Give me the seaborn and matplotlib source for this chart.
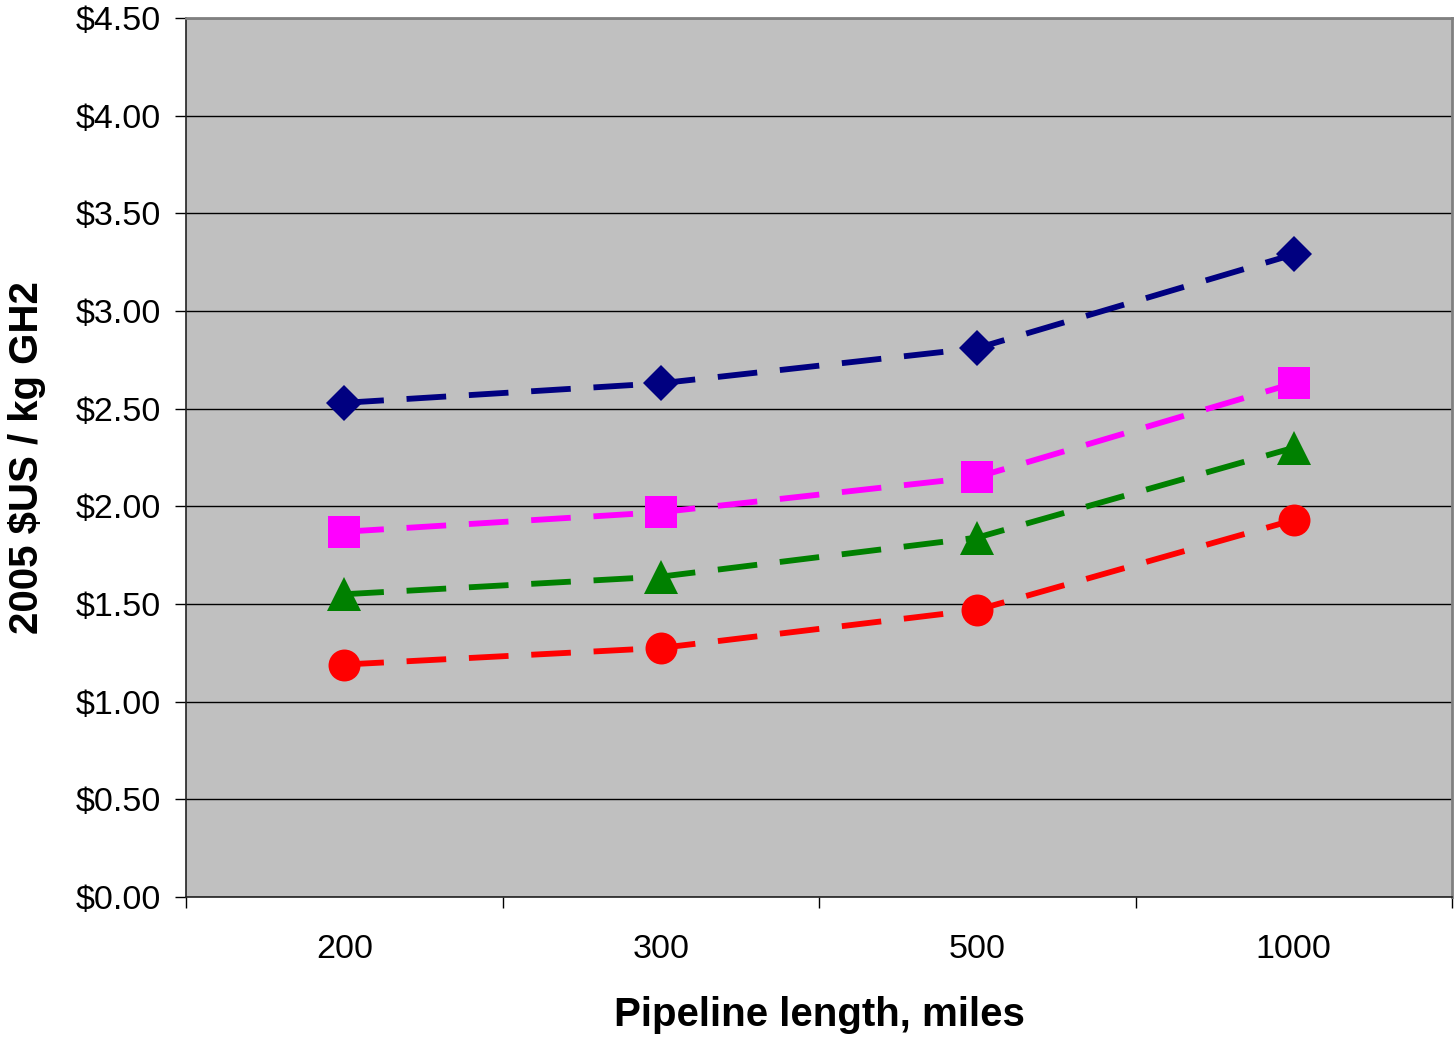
import matplotlib
matplotlib.use("Agg")
import matplotlib.pyplot as plt
import seaborn as sns
import pandas as pd
from matplotlib.ticker import FixedLocator, FuncFormatter

# ---- data ----
lengths = ["200", "300", "500", "1000"]
series_a = [2.53, 2.63, 2.81, 3.29]   # navy diamonds
series_b = [1.87, 1.97, 2.15, 2.63]   # magenta squares
series_c = [1.55, 1.64, 1.84, 2.30]   # green triangles
series_d = [1.19, 1.275, 1.47, 1.93]  # red circles
y_ticks = [0.0, 0.5, 1.0, 1.5, 2.0, 2.5, 3.0, 3.5, 4.0, 4.5]

sns.set_style("white")
plt.rcParams["font.family"] = ["Liberation Sans", "DejaVu Sans"]
plt.rcParams["text.color"] = "black"
plt.rcParams["axes.labelcolor"] = "black"
plt.rcParams["xtick.color"] = "black"
plt.rcParams["ytick.color"] = "black"

fig = plt.figure(figsize=(14.54, 10.37), dpi=100)
ax = fig.add_axes([186 / 1454, (1037 - 897) / 1037, 1266 / 1454, 879 / 1037])
ax.set_facecolor("#C0C0C0")

styles = [
    (series_a, "#000080", "D", 18),
    (series_b, "#FF00FF", "s", 23),
    (series_c, "#008000", "^", 25),
    (series_d, "#FF0000", "o", 23),
]
for vals, color, marker, ms in styles:
    df = pd.DataFrame({"length": lengths, "cost": vals})
    sns.lineplot(data=df, x="length", y="cost", ax=ax, color=color,
                 marker=marker, markersize=ms, markeredgewidth=0,
                 linewidth=4.2, linestyle=(0, (6.8, 3.9)),
                 dash_capstyle="butt", sort=False, legend=False, zorder=3)

ax.set_xlim(-0.5, len(lengths) - 0.5)
ax.set_ylim(0, 4.5)

# y axis
ax.yaxis.set_major_locator(FixedLocator(y_ticks))
ax.yaxis.set_major_formatter(FuncFormatter(lambda v, p: f"${v:.2f}"))
ax.grid(axis="y", color="black", linewidth=1.0, zorder=1)
ax.set_axisbelow(True)
ax.tick_params(axis="y", direction="out", length=8, width=1, color="black",
               labelcolor="black", labelsize=24.5, pad=10, left=True)

# x axis: labels at centres, tick marks at boundaries
ax.set_xticks(range(len(lengths)))
ax.set_xticklabels(lengths)
ax.set_xticks([i - 0.5 for i in range(len(lengths) + 1)], minor=True)
ax.tick_params(axis="x", which="major", length=0, labelsize=24.5, pad=27,
               labelcolor="black")
ax.tick_params(axis="x", which="minor", direction="out", length=8, width=1,
               color="black", bottom=True)

for side in ["left", "bottom"]:
    ax.spines[side].set_color("#222222")
    ax.spines[side].set_linewidth(1.2)
for side in ["top", "right"]:
    ax.spines[side].set_color("#808080")
    ax.spines[side].set_linewidth(2)

ax.set_xlabel("Pipeline length, miles", fontsize=29, fontweight="bold",
              color="black")
ax.set_ylabel("2005 $US / kg GH2", fontsize=29, fontweight="bold",
              color="black")
ax.xaxis.set_label_coords(0.5, (897 - 1015) / 879)
ax.xaxis.label.set_va("center")
ax.yaxis.set_label_coords((27 - 186) / 1266, 0.5)
ax.yaxis.label.set_va("center")

fig.savefig("out.png", dpi=100)
